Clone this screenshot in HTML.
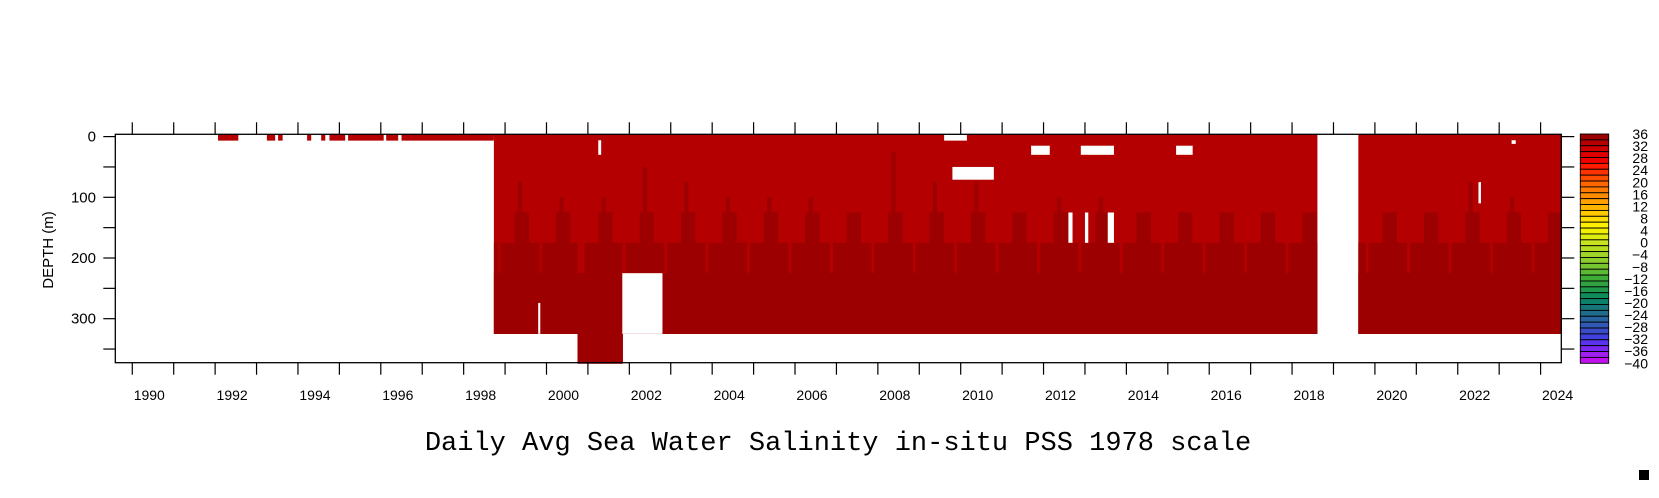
<!DOCTYPE html>
<html><head><meta charset="utf-8"><style>
html,body{margin:0;padding:0;background:#fff;}
svg{display:block;font-family:"Liberation Sans",sans-serif;}
</style></head><body>
<svg id="chart" width="1659" height="498" viewBox="0 0 1659 498" xmlns="http://www.w3.org/2000/svg">
<g id="marks"></g>
<g id="axes"></g>
<g id="cbar"></g>
<text x="53" y="250" font-size="15" text-anchor="middle" transform="rotate(-90 53 250)">DEPTH (m)</text>
<text x="838" y="450" font-family="Liberation Mono, monospace" font-size="27" text-anchor="middle">Daily Avg Sea Water Salinity in-situ PSS 1978 scale</text>
<rect x="1639" y="470" width="10" height="10" fill="#000"/>
</svg>
<script>
// ---- data ----
const xTicks = [1990,1991,1992,1993,1994,1995,1996,1997,1998,1999,2000,2001,2002,2003,2004,2005,2006,2007,2008,2009,2010,2011,2012,2013,2014,2015,2016,2017,2018,2019,2020,2021,2022,2023,2024];
const xLabels = [1990,1992,1994,1996,1998,2000,2002,2004,2006,2008,2010,2012,2014,2016,2018,2020,2022,2024];
const yTicks = [0,50,100,150,200,250,300,350];
const yLabels = [0,100,200,300];
// surface-only segments [startYear, endYear]
const surfaceSegments = [[1992.07,1992.56],[1993.25,1993.45],[1993.52,1993.63],[1994.22,1994.32],[1994.56,1994.66],[1994.76,1995.14],[1995.21,1996.07],[1996.13,1996.42],[1996.5,1998.73]];
// full profile segments [start, end, bottomDepth]
const profileSegments = [[1998.73,2000.75,325],[2000.75,2001.83,374],[2001.83,2018.6,325],[2019.6,2024.5,325]];
// dark (higher salinity) top depth by month of year
const darkTopByMonth = [175,175,125,100,125,125,175,175,175,225,175,175];
// per-year shallowest dark reach in spring
const yearPeak = {1999:75,2000:100,2001:100,2002:50,2003:75,2004:100,2005:100,2006:100,2007:125,2008:25,2009:75,2010:75,2011:125,2012:100,2013:100,2014:125,2015:125,2016:125,2017:125,2018:125,2019:175,2020:125,2021:125,2022:75,2023:100,2024:125};
// missing-data patches [y0, y1, d0, d1]
const gaps = [[1999.8,1999.85,274,325],[2001.83,2002.8,225,325],[2009.6,2010.15,-3,6.6],[2009.8,2010.8,50,71],[2011.7,2012.15,15,30],[2012.9,2013.7,15,30],[2015.2,2015.6,15,30],[2012.6,2012.7,125,175],[2013.0,2013.08,125,175],[2013.55,2013.7,125,175],[2022.5,2022.56,75,110],[2023.3,2023.4,6,12],[2001.25,2001.32,6,30]];
const cbarLabels = [36,32,28,24,20,16,12,8,4,0,-4,-8,-12,-16,-20,-24,-28,-32,-36,-40];
const cbarColors = ["#9a0000","#b40000","#cc0000","#e00000","#f00000","#ff1a00","#ff3300","#ff4d00","#ff6600","#ff7a00","#ff8c00","#ffa000","#ffb400","#ffc800","#ffdc00","#fff000","#f0f000","#dcec10","#c8e420","#b4dc20","#a0d428","#8ccc2c","#78c430","#5ab832","#40ac38","#30a040","#20984c","#108c5a","#0c8068","#187478","#206c8c","#2864a0","#3058b4","#3a4cc8","#4040dc","#5a34ec","#7a28f0","#a020f0","#c010f0"];
// ---- axes functions ----
const X0=115.3,X1=1561.3,T0=1989.59,T1=2024.5,Y0=134.3,Y1=362.7;
const xs = t => X0+(t-T0)/(T1-T0)*(X1-X0);
const D0=-3.8,D1=372.5;
const ys = d => Y0+(d-D0)/(D1-D0)*(Y1-Y0);
const NS="http://www.w3.org/2000/svg";
function mk(tag,attrs,parent){const e=document.createElementNS(NS,tag);for(const k in attrs)e.setAttribute(k,attrs[k]);parent.appendChild(e);return e;}
const marks=document.getElementById('marks'),axes=document.getElementById('axes'),cbar=document.getElementById('cbar');
const LIGHT="#b40000",DARK="#9c0000";
surfaceSegments.forEach(s=>{const r=mk('rect',{x:xs(s[0]),y:ys(-3.8),width:xs(s[1])-xs(s[0]),height:ys(6.6)-ys(-3.8),fill:LIGHT},marks);

});
profileSegments.forEach(s=>{
  const r=mk('rect',{x:xs(s[0]),y:ys(-3.8),width:xs(s[1])-xs(s[0])+0.5,height:ys(s[2])-ys(-3.8),fill:LIGHT},marks);
  
  
  const step=1/12;
  for(let t=s[0];t<s[1]-1e-6;t+=step){
    const t2=Math.min(t+step,s[1]);
    const yr=Math.floor(t),m=Math.min(11,Math.floor((t-yr)*12));
    let top=darkTopByMonth[m];
    if(m===3&&yearPeak[yr]!==undefined) top=yearPeak[yr];
    const c=mk('rect',{x:xs(t),y:ys(top),width:xs(t2)-xs(t)+0.5,height:ys(s[2])-ys(top),fill:DARK},marks);
    
    
  }
  const b=mk('rect',{x:xs(s[0]),y:ys(225),width:xs(s[1])-xs(s[0])+0.5,height:ys(s[2])-ys(225),fill:DARK},marks);
  
  
});
gaps.forEach(g=>{const r=mk('rect',{x:xs(g[0]),y:ys(g[2]),width:xs(g[1])-xs(g[0]),height:ys(g[3])-ys(g[2]),fill:"#fff"},marks);

});
const fr=mk('rect',{x:X0,y:Y0,width:X1-X0,height:Y1-Y0,fill:"none",stroke:"#000","stroke-width":1.3},axes);


xTicks.forEach(t=>{const x=xs(t);
 const a=mk('line',{x1:x,x2:x,y1:Y0-12,y2:Y0,stroke:"#000","stroke-width":1.2},axes);
 
 
 const b=mk('line',{x1:x,x2:x,y1:Y1,y2:Y1+12,stroke:"#000","stroke-width":1.2},axes);
 
 });
xLabels.forEach(t=>{const e=mk('text',{x:xs(t)+17,y:400,"font-size":14,"text-anchor":"middle"},axes);e.textContent=t;
 
 });
yTicks.forEach(d=>{const y=ys(d);
 const a=mk('line',{x1:X0-12,x2:X0,y1:y,y2:y,stroke:"#000","stroke-width":1.2},axes);
 
 
 const b=mk('line',{x1:X1,x2:X1+13,y1:y,y2:y,stroke:"#000","stroke-width":1.2},axes);
 
 });
yLabels.forEach(d=>{const e=mk('text',{x:96,y:ys(d)+5,"font-size":15,"text-anchor":"end"},axes);e.textContent=d;
 
 });
const CX=1580.3,CW=28.4,CT=134,CB=363.3,n=cbarColors.length,ch=(CB-CT)/n;
cbarColors.forEach((c,i)=>{const r=mk('rect',{x:CX,y:CT+i*ch,width:CW,height:ch,fill:c,stroke:"#000","stroke-width":0.9},cbar);
 
 });
cbarLabels.forEach((v,i)=>{const y=CT+i*(CB-CT)/(cbarLabels.length-1);
 const e=mk('text',{x:1648,y:y+5,"font-size":14,"text-anchor":"end"},cbar);e.textContent=v<0?'\u2212'+(-v):v;
 
 });
</script>
</body></html>
